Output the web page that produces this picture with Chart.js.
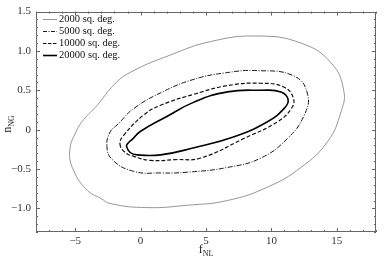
<!DOCTYPE html>
<html>
<head>
<meta charset="utf-8">
<script src="https://cdn.jsdelivr.net/npm/chart.js@4.4.1/dist/chart.umd.min.js"></script>
<style>
  html, body { margin: 0; padding: 0; background: #fff; }
  #wrap { width: 390px; height: 260px; }
</style>
</head>
<body>
<div id="wrap"><canvas id="chart" width="390" height="260"></canvas></div>
<script>
// contour points (f_NL, n_NG), going round each curve
const f2000 = [-5.42, -5.12, -4.08, -3.07, -2.30, 0.50, 3.58, 6.64, 9.70, 12.26, 14.30, 15.33, 15.53, 14.56, 12.26, 8.94, 5.36, 2.30, -0.77, -2.04, -3.32, -4.34, -4.92];
const n2000 = [-0.27, -0.52, -0.77, -0.87, -0.94, -0.99, -0.96, -0.90, -0.73, -0.48, -0.15, 0.23, 0.50, 0.85, 1.10, 1.19, 1.12, 0.95, 0.73, 0.57, 0.31, 0.13, -0.02];

const f5000 = [-2.58, -2.17, -0.51, 1.60, 3.58, 6.64, 9.20, 11.24, 12.50, 12.77, 11.75, 8.94, 6.40, 4.08, 1.80, -0.51, -1.79, -2.30];
const n5000 = [-0.20, -0.38, -0.53, -0.55, -0.54, -0.48, -0.36, -0.11, 0.18, 0.45, 0.68, 0.75, 0.72, 0.64, 0.49, 0.27, 0.06, -0.02];

const f10000 = [-1.58, -1.18, -0.51, 0.77, 2.70, 4.60, 7.92, 10.47, 11.49, 11.70, 10.98, 9.20, 6.64, 4.08, 1.53, 0.26, -1.28];
const n10000 = [-0.18, -0.29, -0.34, -0.39, -0.38, -0.36, -0.11, 0.10, 0.26, 0.39, 0.54, 0.59, 0.56, 0.45, 0.31, 0.19, -0.07];

const f20000 = [-1.08, -0.80, -0.26, 1.53, 4.08, 7.15, 9.70, 10.98, 11.28, 10.73, 9.20, 6.64, 4.08, 2.04, 0.00, -0.62, -0.95];
const n20000 = [-0.21, -0.29, -0.32, -0.32, -0.23, -0.09, 0.10, 0.27, 0.38, 0.48, 0.50, 0.48, 0.35, 0.17, -0.02, -0.12, -0.17];

const seriesLabels = ['2000 sq. deg.', '5000 sq. deg.', '10000 sq. deg.', '20000 sq. deg.'];

const xTicks = [-5, 0, 5, 10, 15];
const yTicks = [-1, -0.5, 0, 0.5, 1, 1.5];
const yTickLabels = ['\u22121.0', '\u22120.5', '0', '0.5', '1.0', '1.5'];

const SERIF = '"Liberation Serif", "Times New Roman", Times, serif';

function toPoints(xs, ys) {
    return xs.map((x, i) => ({ x: x, y: ys[i] }));
}

// line styles per contour
const styles = [
    { color: '#8a8a8a', width: 0.9, dash: [] },
    { color: '#1a1a1a', width: 1.0, dash: [5, 1.5, 1, 1.5] },
    { color: '#111111', width: 1.2, dash: [4, 2] },
    { color: '#000000', width: 1.6, dash: [] }
];

const datasets = [
    toPoints(f2000, n2000),
    toPoints(f5000, n5000),
    toPoints(f10000, n10000),
    toPoints(f20000, n20000)
].map((pts, i) => ({
    label: seriesLabels[i],
    data: pts,
    pointRadius: 0,
    borderColor: styles[i].color,
    borderWidth: styles[i].width,
    borderDash: styles[i].dash,
    tension: 0.45,
    fill: false
}));

// close every curve smoothly
const closeLoops = {
    id: 'closeLoops',
    beforeDatasetsDraw(chart) {
        chart.data.datasets.forEach((ds, i) => {
            const line = chart.getDatasetMeta(i).dataset;
            if (!line) return;
            line._loop = true;
            line._fullLoop = true;
            line._pointsUpdated = false;
            line._segments = undefined;
            line._path = undefined;
        });
    }
};

// frame, inward ticks, legend and axis titles
const frame = {
    id: 'frame',
    afterDatasetsDraw(chart) {
        const ctx = chart.ctx;
        const a = chart.chartArea;
        const xs = chart.scales.x;
        const ys = chart.scales.y;
        ctx.save();
        ctx.strokeStyle = '#666';
        ctx.lineWidth = 1;
        ctx.strokeRect(Math.round(a.left) + 0.5, Math.round(a.top) + 0.5,
            Math.round(a.right - a.left) - 1, Math.round(a.bottom - a.top) - 1);

        ctx.beginPath();
        for (let v = Math.ceil(xs.min); v <= xs.max; v++) {
            const px = Math.round(xs.getPixelForValue(v)) + 0.5;
            const len = (v % 5 === 0) ? 4 : 2;
            ctx.moveTo(px, a.bottom); ctx.lineTo(px, a.bottom - len);
            ctx.moveTo(px, a.top); ctx.lineTo(px, a.top + len);
        }
        for (let k = Math.ceil(ys.min * 10); k <= Math.floor(ys.max * 10); k++) {
            const py = Math.round(ys.getPixelForValue(k / 10)) + 0.5;
            const len = (k % 5 === 0) ? 4 : 2;
            ctx.moveTo(a.left, py); ctx.lineTo(a.left + len, py);
            ctx.moveTo(a.right, py); ctx.lineTo(a.right - len, py);
        }
        ctx.stroke();

        // legend
        ctx.font = '10.5px ' + SERIF;
        ctx.textBaseline = 'middle';
        ctx.textAlign = 'left';
        seriesLabels.forEach((lab, i) => {
            const y = 19 + i * 12;
            ctx.beginPath();
            ctx.strokeStyle = styles[i].color;
            ctx.lineWidth = styles[i].width;
            ctx.setLineDash(i === 1 ? [4, 1.5, 1, 1.5] : (i === 2 ? [3.5, 1.5] : []));
            ctx.moveTo(43, y + 0.5); ctx.lineTo(57, y + 0.5);
            ctx.stroke();
            ctx.setLineDash([]);
            ctx.fillStyle = '#111';
            ctx.fillText(lab, 59, y);
        });

        // axis titles with subscripts
        ctx.fillStyle = '#222';
        ctx.textBaseline = 'alphabetic';
        const title = (main, sub, cx, cy) => {
            ctx.font = '12px ' + SERIF;
            const w1 = ctx.measureText(main).width;
            ctx.font = '8px ' + SERIF;
            const w2 = ctx.measureText(sub).width;
            const x0 = cx - (w1 + w2) / 2;
            ctx.font = '12px ' + SERIF;
            ctx.fillText(main, x0, cy);
            ctx.font = '8px ' + SERIF;
            ctx.fillText(sub, x0 + w1, cy + 3);
        };
        title('f', 'NL', 206, 253);
        ctx.save();
        ctx.translate(11, 124);
        ctx.rotate(-Math.PI / 2);
        title('n', 'NG', 0, 0);
        ctx.restore();
        ctx.restore();
    }
};

new Chart(document.getElementById('chart').getContext('2d'), {
    type: 'line',
    data: { datasets: datasets },
    options: {
        responsive: false,
        animation: false,
        layout: { padding: { top: 8, right: 14, left: 0, bottom: 0 } },
        plugins: { legend: { display: false }, tooltip: { enabled: false } },
        scales: {
            x: {
                type: 'linear',
                min: -8,
                max: 18,
                grid: { display: false, drawTicks: false },
                border: { display: false },
                afterBuildTicks: (scale) => { scale.ticks = xTicks.map(v => ({ value: v })); },
                afterFit: (scale) => { scale.height = 28; },
                ticks: {
                    padding: 3,
                    color: '#333',
                    font: { family: SERIF, size: 11 },
                    callback: (v) => (v < 0 ? '\u2212' + Math.abs(v) : String(v))
                }
            },
            y: {
                type: 'linear',
                min: -1.3,
                max: 1.5,
                grid: { display: false, drawTicks: false },
                border: { display: false },
                afterBuildTicks: (scale) => { scale.ticks = yTicks.map(v => ({ value: v })); },
                afterFit: (scale) => { scale.width = 36; },
                ticks: {
                    padding: 5,
                    color: '#333',
                    font: { family: SERIF, size: 11 },
                    callback: (v) => yTickLabels[yTicks.indexOf(v)]
                }
            }
        }
    },
    plugins: [closeLoops, frame]
});
</script>
</body>
</html>
